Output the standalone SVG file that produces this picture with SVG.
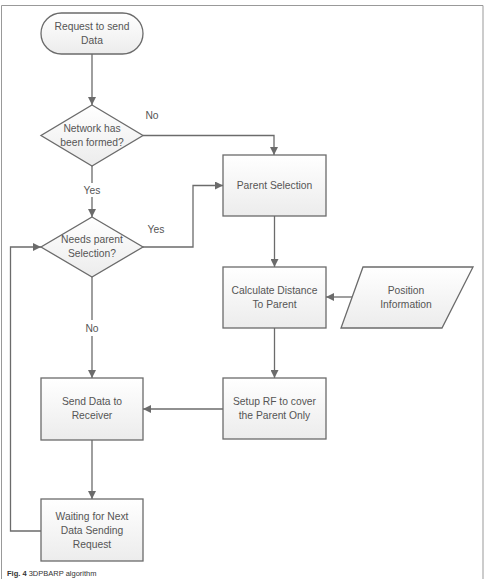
<svg xmlns="http://www.w3.org/2000/svg" width="485" height="579" viewBox="0 0 485 579">
<style>
.box{fill:url(#g);stroke:#6b6b6b;stroke-width:1.3}
.t{font-family:"Liberation Sans",Arial,sans-serif;font-size:10.3px;fill:#555;text-anchor:middle}
.lbl{font-family:"Liberation Sans",Arial,sans-serif;font-size:10.3px;fill:#555;text-anchor:middle}
.c{fill:none;stroke:#6b6b6b;stroke-width:1.3}
.a{marker-end:url(#ah)}
</style>
<defs>
<linearGradient id="g" x1="0" y1="0" x2="0" y2="1">
<stop offset="0" stop-color="#ffffff"/>
<stop offset="1" stop-color="#ececec"/>
</linearGradient>
<marker id="ah" viewBox="0 0 10 10" refX="10" refY="5" markerWidth="8" markerHeight="8" markerUnits="userSpaceOnUse" orient="auto">
<path d="M0,0 L10,5 L0,10 z" fill="#6b6b6b"/>
</marker>
</defs>
<rect x="0" y="0" width="485" height="579" fill="#fff"/>
<path d="M1.5,580 V5.5 H483 V580" fill="none" stroke="#999" stroke-width="1"/>

<g id="connectors">
<path class="c a" d="M92,54 V105"/>
<path class="c a" d="M143,135.5 H274 V155"/>
<path class="c" d="M92,166 V183"/>
<path class="c a" d="M92,197 V217"/>
<path class="c a" d="M143,247 H193 V185.5 H223"/>
<path class="c a" d="M274.5,216 V267"/>
<path class="c a" d="M355,297 H326"/>
<path class="c a" d="M274.5,328 V378"/>
<path class="c a" d="M223,409 H143"/>
<path class="c" d="M92,277 V320"/>
<path class="c a" d="M92,336 V378"/>
<path class="c a" d="M92,440 V499"/>
<path class="c a" d="M41,531 H10.5 V247 H41"/>
<text class="lbl" x="152" y="119">No</text>
<text class="lbl" x="92" y="194">Yes</text>
<text class="lbl" x="156" y="233">Yes</text>
<text class="lbl" x="92" y="332">No</text>
</g>

<g id="start">
<rect class="box" x="41" y="13" width="102" height="41" rx="20.5"/>
<text class="t" x="92" y="30">Request to send</text>
<text class="t" x="92" y="44">Data</text>
</g>

<g id="network-formed">
<polygon class="box" points="92,105 143,135.5 92,166 41,135.5"/>
<text class="t" x="92" y="132">Network has</text>
<text class="t" x="92" y="146">been formed?</text>
</g>

<g id="needs-parent">
<polygon class="box" points="92,217 143,247 92,277 41,247"/>
<text class="t" x="92" y="243">Needs parent</text>
<text class="t" x="92" y="257">Selection?</text>
</g>

<g id="parent-selection">
<rect class="box" x="223" y="155" width="103" height="61"/>
<text class="t" x="274.5" y="189">Parent Selection</text>
</g>

<g id="calc-distance">
<rect class="box" x="223" y="267" width="103" height="61"/>
<text class="t" x="274.5" y="294">Calculate Distance</text>
<text class="t" x="274.5" y="308">To Parent</text>
</g>

<g id="position-info">
<polygon class="box" points="363,267 473,267 442,328 341,328"/>
<text class="t" x="406" y="294">Position</text>
<text class="t" x="406" y="308">Information</text>
</g>

<g id="setup-rf">
<rect class="box" x="223" y="378" width="103" height="61"/>
<text class="t" x="274.5" y="405">Setup RF to cover</text>
<text class="t" x="274.5" y="419">the Parent Only</text>
</g>

<g id="send-data">
<rect class="box" x="41" y="378" width="102" height="62"/>
<text class="t" x="92" y="405">Send Data to</text>
<text class="t" x="92" y="419">Receiver</text>
</g>

<g id="waiting">
<rect class="box" x="41" y="499" width="102" height="62"/>
<text class="t" x="92" y="520">Waiting for Next</text>
<text class="t" x="92" y="534">Data Sending</text>
<text class="t" x="92" y="548">Request</text>
</g>

<text x="7" y="576" font-family="Liberation Sans,Arial,sans-serif" font-size="7.5px" fill="#333"><tspan font-weight="bold">Fig. 4</tspan> 3DPBARP algorithm</text>
</svg>
